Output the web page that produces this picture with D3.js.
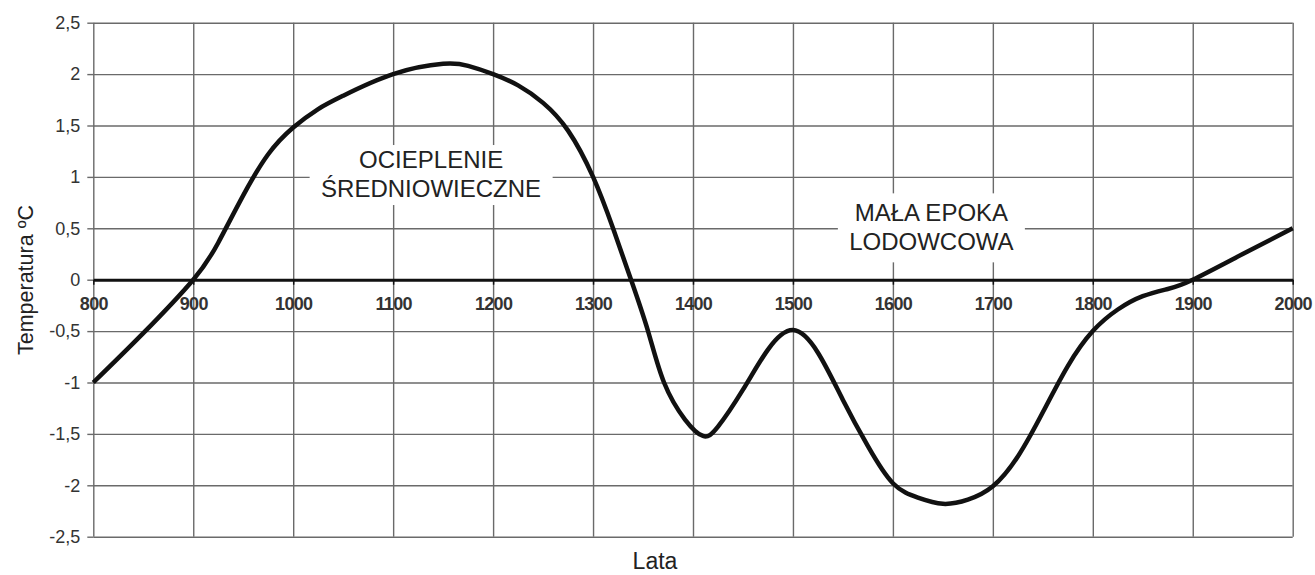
<!DOCTYPE html>
<html>
<head>
<meta charset="utf-8">
<script src="https://cdn.jsdelivr.net/npm/d3@7"></script>
<style>
  body { margin: 0; background: #fff; }
  svg { font-family: "Liberation Sans", Arial, sans-serif; }
  .grid line { stroke: #6a6a6a; stroke-width: 1.4; }
  .grid path { display: none; }
  .ylab text { font-size: 18px; fill: #333; }
  .ylab line { stroke: #6a6a6a; stroke-width: 1.4; }
  .ylab path { display: none; }
  .xlab text { font-size: 18px; font-weight: bold; fill: #333; letter-spacing: -0.7px; }
  .xlab line { stroke: #111; stroke-width: 1.5; }
  .xlab path { stroke: #111; stroke-width: 3; }
  .title { fill: #222; }
  .annot { font-size: 24px; fill: #222; }
</style>
</head>
<body>
<svg id="chart" width="1315" height="575"></svg>
<script>
// data
var years = [800, 850, 900, 925, 950, 975, 1000, 1025, 1050, 1100, 1150, 1175, 1200, 1225, 1250, 1275, 1300,
             1320, 1338, 1355, 1371, 1392, 1410, 1425, 1450, 1475, 1500, 1525, 1550, 1575, 1600,
             1625, 1650, 1675, 1700, 1725, 1750, 1775, 1800, 1825, 1850, 1875, 1900, 1950, 2000];
var temps = [-1.0, -0.52, 0, 0.36, 0.82, 1.22, 1.48, 1.66, 1.79, 2.0, 2.1, 2.08, 2.0, 1.89, 1.72, 1.45, 1.0,
             0.5, 0, -0.5, -1.0, -1.36, -1.52, -1.43, -1.07, -0.68, -0.49, -0.71, -1.17, -1.62, -1.98,
             -2.12, -2.18, -2.14, -2.01, -1.72, -1.29, -0.84, -0.5, -0.29, -0.16, -0.09, 0, 0.25, 0.5];
var xTicks = [800, 900, 1000, 1100, 1200, 1300, 1400, 1500, 1600, 1700, 1800, 1900, 2000];
var yTicks = [-2.5, -2, -1.5, -1, -0.5, 0, 0.5, 1, 1.5, 2, 2.5];
var yTickLabels = ["-2,5", "-2", "-1,5", "-1", "-0,5", "0", "0,5", "1", "1,5", "2", "2,5"];
var labelWarm = ["OCIEPLENIE", "ŚREDNIOWIECZNE"];
var labelCold = ["MAŁA EPOKA", "LODOWCOWA"];

(function() {
    var svg = d3.select("#chart");
    var plotLeft = 93.3, plotRight = 1292.7, plotTop = 22.7, plotBottom = 536.7;
    var width = plotRight - plotLeft, height = plotBottom - plotTop;

    var x = d3.scaleLinear().domain([800, 2000]).range([plotLeft, plotRight]);
    var y = d3.scaleLinear().domain([-2.5, 2.5]).range([plotBottom, plotTop]);

    // grid
    svg.append("g")
        .attr("class", "grid")
        .attr("transform", "translate(0," + plotBottom + ")")
        .call(d3.axisBottom(x).tickValues(xTicks).tickSize(-height).tickFormat(""));

    svg.append("g")
        .attr("class", "ylab")
        .attr("transform", "translate(" + plotLeft + ",0)")
        .call(d3.axisLeft(y).tickValues(yTicks).tickSize(6).tickPadding(7)
            .tickFormat(function(d, i) { return yTickLabels[i]; }));

    svg.append("g")
        .attr("class", "grid")
        .attr("transform", "translate(" + plotLeft + ",0)")
        .call(d3.axisLeft(y).tickValues(yTicks).tickSize(-width).tickFormat(""));

    // annotation boxes (white background breaks the grid)
    var annots = [
        {lines: labelWarm, cx: x(1138), top: y(1.31), w: 243, h: 60, base: [168, 197]},
        {lines: labelCold, cx: x(1638.5), top: y(0.84), w: 187, h: 69, base: [221, 250]}
    ];
    annots.forEach(function(a) {
        svg.append("rect")
            .attr("x", a.cx - a.w / 2)
            .attr("y", a.top)
            .attr("width", a.w)
            .attr("height", a.h)
            .attr("fill", "#fff");
        a.lines.forEach(function(t, i) {
            svg.append("text")
                .attr("class", "annot")
                .attr("x", a.cx)
                .attr("y", a.base[i])
                .attr("text-anchor", "middle")
                .text(t);
        });
    });

    // zero axis with year labels
    svg.append("g")
        .attr("class", "xlab")
        .attr("transform", "translate(0," + y(0) + ")")
        .call(d3.axisBottom(x).tickValues(xTicks).tickSizeInner(5).tickSizeOuter(0).tickPadding(13)
            .tickFormat(d3.format("d")));

    // curve
    var line = d3.line()
        .x(function(d, i) { return x(years[i]); })
        .y(function(d) { return y(d); })
        .curve(d3.curveNatural);

    svg.append("path")
        .attr("d", line(temps))
        .attr("fill", "none")
        .attr("stroke", "#111")
        .attr("stroke-width", 4.5)
        .attr("stroke-linejoin", "round");

    // axis titles
    svg.append("text")
        .attr("class", "title")
        .style("font-size", "21.5px")
        .attr("transform", "translate(33,280) rotate(-90)")
        .attr("text-anchor", "middle")
        .text("Temperatura ºC");

    svg.append("text")
        .attr("class", "title")
        .style("font-size", "23px")
        .attr("x", 655)
        .attr("y", 569)
        .attr("text-anchor", "middle")
        .text("Lata");
})();
</script>
</body>
</html>
